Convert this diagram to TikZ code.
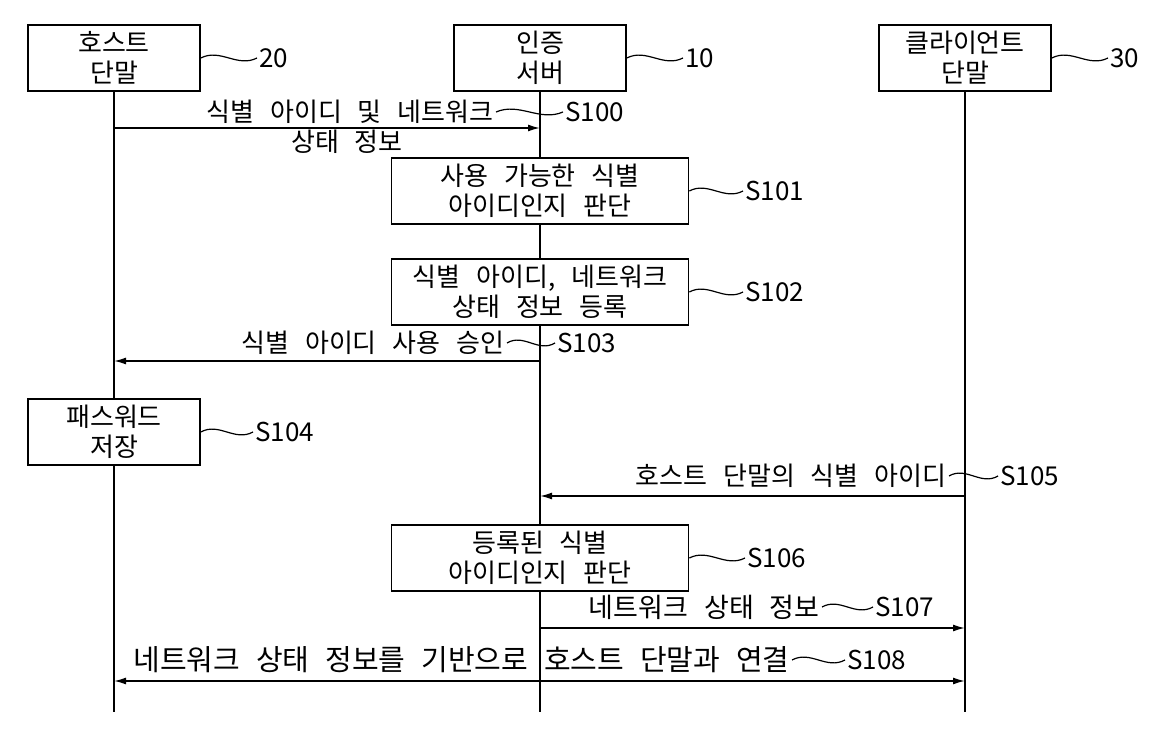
\documentclass[tikz,border=0pt]{standalone}
\usepackage{fontspec}
\setmainfont{Noto Sans CJK KR}
\usetikzlibrary{arrows.meta,calc}
\newcommand\myfnt{\fontsize{13}{15}\selectfont\spaceskip=8pt plus 1pt\relax}
\newcommand\bigfnt{\fontsize{14.5}{16}\selectfont\spaceskip=8pt plus 1pt\relax}
\newcommand\midfnt{\fontsize{13.5}{16}\selectfont\spaceskip=8pt plus 1pt\relax}
\begin{document}
\begin{tikzpicture}[x=0.5pt,y=-0.5pt,
  font=\myfnt,
  box/.style={draw, line width=0.8pt, fill=white, align=center, minimum width=86pt, minimum height=33pt, inner sep=0pt},
  proc/.style={box, minimum width=148.5pt},
  lbl/.style={inner sep=1pt},
  lane/.style={line width=0.8pt},
  msg/.style={line width=0.8pt, -{Latex[length=6pt,width=3.5pt]}},
  dmsg/.style={line width=0.8pt, {Latex[length=6pt,width=3.5pt]}-{Latex[length=6pt,width=3.5pt]}},
  squig/.style={line width=0.6pt, to path={.. controls ($(\tikztostart)!0.35!(\tikztotarget)+(0,-10)$) and ($(\tikztostart)!0.65!(\tikztotarget)+(0,10)$) .. (\tikztotarget)}}
]
\useasboundingbox (0,0) rectangle (1162,732);
% heads
\node[box] (host) at (114,58) {호스트\\단말};
\node[box] (server) at (540,58) {인증\\서버};
\node[box] (client) at (965,58) {클라이언트\\단말};
\node[lbl,anchor=west] (l20) at (257,58) {20};
\node[lbl,anchor=west] (l10) at (683,58) {10};
\node[lbl,anchor=west] (l30) at (1108,58) {30};
\draw[squig] (host.east) to (l20.west);
\draw[squig] (server.east) to (l10.west);
\draw[squig] (client.east) to (l30.west);
% lifelines
\coordinate (hE) at (114,712);
\coordinate (sE) at (540,712);
\coordinate (cE) at (965,712);
\draw[lane] (host) -- (hE);
\draw[lane] (server) -- (sE);
\draw[lane] (client) -- (cE);
% S100
\coordinate (h100) at (114,128);
\coordinate (s100) at (540,128);
\draw[msg] (h100) -- (s100);
\node[lbl] (t100a) at (350,112) {식별 아이디 및 네트워크};
\node[lbl] (t100b) at (347,142) {상태 정보};
\node[lbl,anchor=west] (l100) at (563,112) {S100};
\draw[squig] (t100a.east) to (l100.west);
% S101
\node[proc] (b101) at (540,191) {사용 가능한 식별\\아이디인지 판단};
\node[lbl,anchor=west] (l101) at (743,191) {S101};
\draw[squig] (b101.east) to (l101.west);
% S102
\node[proc] (b102) at (540,292) {식별 아이디, 네트워크\\상태 정보 등록};
\node[lbl,anchor=west] (l102) at (743,292) {S102};
\draw[squig] (b102.east) to (l102.west);
% S103
\coordinate (s103) at (540,361);
\coordinate (h103) at (114,361);
\draw[msg] (s103) -- (h103);
\node[lbl,anchor=east] (t103) at (507,343) {식별 아이디 사용 승인};
\node[lbl,anchor=west] (l103) at (555,343) {S103};
\draw[squig] (t103.east) to (l103.west);
% S104
\node[box] (b104) at (114,432) {패스워드\\저장};
\node[lbl,anchor=west] (l104) at (253,432) {S104};
\draw[squig] (b104.east) to (l104.west);
% S105
\coordinate (c105) at (965,496);
\coordinate (s105) at (540,496);
\draw[msg] (c105) -- (s105);
\node[lbl,anchor=east] (t105) at (949,476) {호스트 단말의 식별 아이디};
\node[lbl,anchor=west] (l105) at (998,476) {S105};
\draw[squig] (t105.east) to (l105.west);
% S106
\node[proc] (b106) at (540,558) {등록된 식별\\아이디인지 판단};
\node[lbl,anchor=west] (l106) at (745,558) {S106};
\draw[squig] (b106.east) to (l106.west);
% S107
\coordinate (s107) at (540,628);
\coordinate (c107) at (965,628);
\draw[msg] (s107) -- (c107);
\node[lbl,anchor=east,font=\midfnt] (t107) at (822,607) {네트워크 상태 정보};
\node[lbl,anchor=west] (l107) at (873,607) {S107};
\draw[squig] (t107.east) to (l107.west);
% S108
\coordinate (h108) at (114,681);
\coordinate (c108) at (965,681);
\draw[dmsg] (h108) -- (c108);
\node[lbl,anchor=east,font=\bigfnt] (t108) at (792,660) {네트워크 상태 정보를 기반으로 호스트 단말과 연결};
\node[lbl,anchor=west] (l108) at (845,660) {S108};
\draw[squig] (t108.east) to (l108.west);
\end{tikzpicture}
\end{document}
